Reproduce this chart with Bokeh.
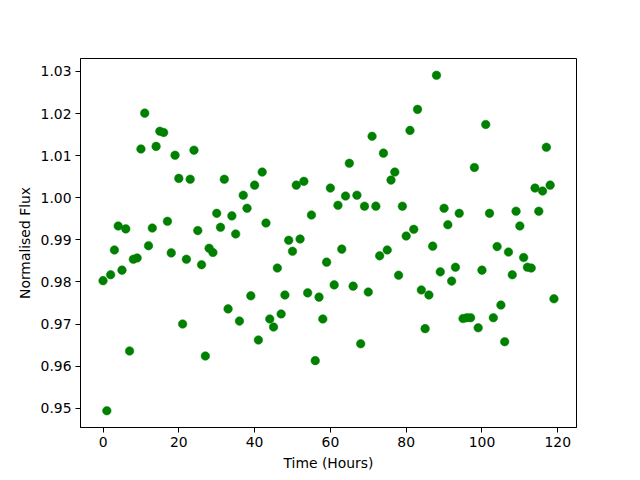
from bokeh.plotting import figure
from bokeh.models import FixedTicker, PrintfTickFormatter, Range1d, ColumnDataSource
from bokeh.embed import file_html
from bokeh.resources import INLINE

hours = list(range(120))
flux = [
    0.9803, 0.9494, 0.9817, 0.9876, 0.9933, 0.9828, 0.9926, 0.9636, 0.9854, 0.9857,
    1.0116, 1.0201, 0.9886, 0.9928, 1.0122, 1.0158, 1.0155, 0.9944, 0.9869, 1.0101,
    1.0046, 0.9700, 0.9854, 1.0044, 1.0113, 0.9922, 0.9841, 0.9624, 0.9880, 0.9870,
    0.9963, 0.9930, 1.0044, 0.9736, 0.9957, 0.9914, 0.9707, 1.0006, 0.9975, 0.9767,
    1.0030, 0.9662, 1.0061, 0.9940, 0.9712, 0.9693, 0.9833, 0.9724, 0.9769, 0.9899,
    0.9873, 1.0030, 0.9902, 1.0039, 0.9774, 0.9959, 0.9613, 0.9764, 0.9712, 0.9847,
    1.0023, 0.9793, 0.9982, 0.9878, 1.0004, 1.0082, 0.9790, 1.0006, 0.9653, 0.9980,
    0.9776, 1.0146, 0.9980, 0.9862, 1.0106, 0.9876, 1.0042, 1.0061, 0.9816, 0.9980,
    0.9909, 1.0160, 0.9925, 1.0210, 0.9781, 0.9689, 0.9769, 0.9885, 1.0291, 0.9824,
    0.9975, 0.9936, 0.9802, 0.9835, 0.9963, 0.9713, 0.9715, 0.9715, 1.0072, 0.9691,
    0.9828, 1.0174, 0.9963, 0.9715, 0.9884, 0.9745, 0.9658, 0.9871, 0.9817, 0.9968,
    0.9933, 0.9858, 0.9835, 0.9833, 1.0023, 0.9968, 1.0016, 1.0120, 1.0030, 0.9760,
]
x_ticks = [0, 20, 40, 60, 80, 100, 120]
y_ticks = [0.95, 0.96, 0.97, 0.98, 0.99, 1.00, 1.01, 1.02, 1.03]
x_label = "Time (Hours)"
y_label = "Normalised Flux"

# matplotlib-like 5% margins
xmin, xmax = min(hours), max(hours)
ymin, ymax = min(flux), max(flux)
xm = 0.05 * (xmax - xmin)
ym = 0.05 * (ymax - ymin)

FONT = "DejaVu Sans"
FS = "13.9px"

p = figure(width=640, height=480, output_backend="svg", toolbar_location=None,
           x_range=Range1d(xmin - xm, xmax + xm), y_range=Range1d(ymin - ym, ymax + ym),
           min_border_left=80, min_border_right=64, min_border_top=58, min_border_bottom=53)

src = ColumnDataSource(dict(x=hours, y=flux))
p.scatter("x", "y", source=src, marker="circle", size=8.6,
          fill_color="#008000", line_color="#008000", line_width=0.5)

p.xgrid.visible = False
p.ygrid.visible = False
p.outline_line_color = "black"
p.outline_line_alpha = 1.0
p.outline_line_width = 1
p.background_fill_color = "white"
p.border_fill_color = "white"

p.xaxis.ticker = FixedTicker(ticks=x_ticks)
p.yaxis.ticker = FixedTicker(ticks=y_ticks)
p.yaxis.formatter = PrintfTickFormatter(format="%.2f")
p.xaxis.axis_label = x_label
p.yaxis.axis_label = y_label

for ax in (p.xaxis, p.yaxis):
    ax.axis_line_color = "black"
    ax.major_tick_line_color = "black"
    ax.major_tick_in = 0
    ax.major_tick_out = 5
    ax.minor_tick_line_color = None
    ax.major_label_text_font = FONT
    ax.major_label_text_font_size = FS
    ax.major_label_text_color = "black"
    ax.axis_label_text_font = FONT
    ax.axis_label_text_font_size = FS
    ax.axis_label_text_font_style = "normal"
    ax.axis_label_text_color = "black"
    ax.major_label_standoff = 4

p.xaxis.axis_label_standoff = 5
p.yaxis.axis_label_standoff = 5

open("out.html", "w").write(file_html(p, INLINE))
